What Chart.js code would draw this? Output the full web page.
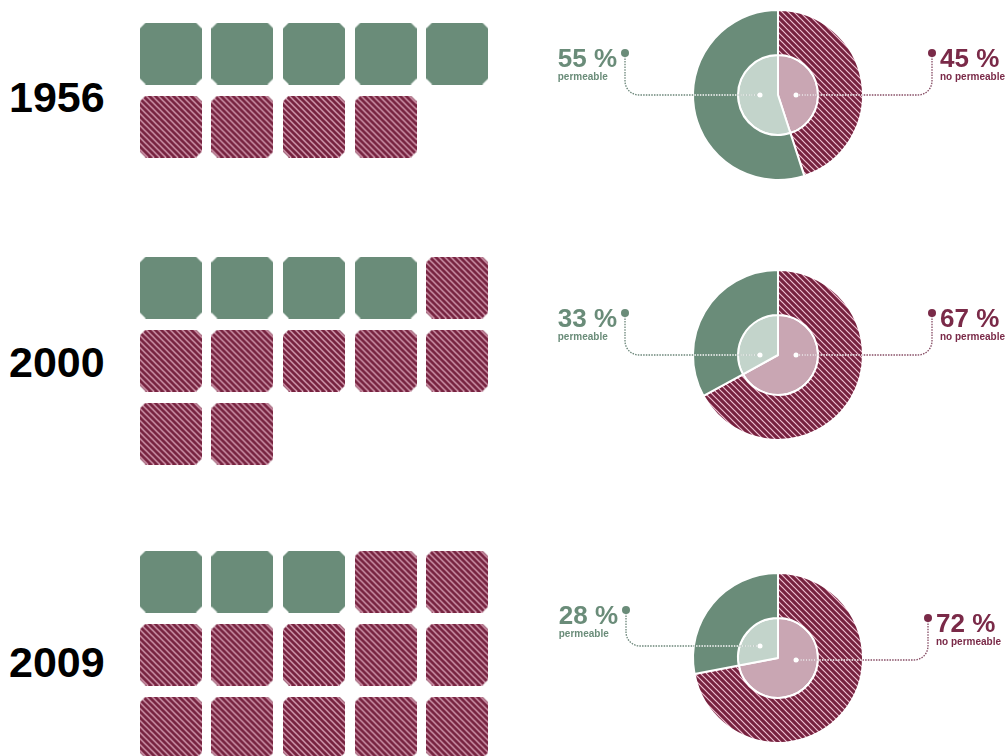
<!DOCTYPE html>
<html>
<head>
<meta charset="utf-8">
<script src="https://cdn.jsdelivr.net/npm/chart.js@4.4.0/dist/chart.umd.min.js"></script>
<style>
  html, body { margin: 0; padding: 0; background: #fff; overflow: hidden; }
  body { width: 1008px; height: 756px; position: relative; font-family: 'Liberation Sans', Arial, sans-serif; }
  .year { position: absolute; left: 9px; font-weight: bold; font-size: 43px; line-height: 43px; color: #000; }
  canvas { position: absolute; }
</style>
</head>
<body>
<div class="year" id="year0" style="top:76px"></div>
<div class="year" id="year1" style="top:341px"></div>
<div class="year" id="year2" style="top:641px"></div>

<canvas id="waffle0" width="358" height="219" style="left:135px; top:17px"></canvas>
<canvas id="waffle1" width="358" height="219" style="left:135px; top:251px"></canvas>
<canvas id="waffle2" width="358" height="219" style="left:135px; top:545px"></canvas>

<canvas id="donut0" width="460" height="190" style="left:548px; top:0px"></canvas>
<canvas id="donut1" width="460" height="190" style="left:548px; top:260px"></canvas>
<canvas id="donut2" width="460" height="190" style="left:548px; top:563px"></canvas>

<script>
// data
var years = ['1956', '2000', '2009'];
var permeableTiles = [5, 4, 3];
var noPermeableTiles = [4, 8, 12];
var permeablePct = [55, 33, 28];
var noPermeablePct = [45, 67, 72];
var seriesLabels = ['permeable', 'no permeable'];

// colours
var GREEN = '#6a8c79';
var MAROON = '#76223f';
var LIGHT_GREEN = '#c3d4cb';
var LIGHT_PINK = '#c9a6b3';

// where the callout lines sit, per row (dot offset / line offset from donut centre)
var calloutLayout = [
    {left: {dx: 153, dotDy: -42, lineDy: 0},   right: {dx: 154, dotDy: -42, lineDy: 0}},
    {left: {dx: 153, dotDy: -42, lineDy: 0},   right: {dx: 154, dotDy: -42, lineDy: 0}},
    {left: {dx: 152, dotDy: -48, lineDy: -12}, right: {dx: 150, dotDy: -40, lineDy: 2}}
];

function hatch(ctx) {
    var s = 6;
    var c = document.createElement('canvas');
    c.width = s; c.height = s;
    var g = c.getContext('2d');
    g.fillStyle = MAROON;
    g.fillRect(0, 0, s, s);
    g.strokeStyle = 'rgba(245,200,218,0.95)';
    g.lineWidth = 1.2;
    g.beginPath();
    g.moveTo(-1, -1); g.lineTo(s + 1, s + 1);
    g.moveTo(s - 1, -1); g.lineTo(s + 1, 1);
    g.moveTo(-1, s - 1); g.lineTo(1, s + 1);
    g.stroke();
    return ctx.createPattern(c, 'repeat');
}

function makeTile(hatched) {
    var size = 62, cut = 6;
    var c = document.createElement('canvas');
    c.width = size; c.height = size;
    var g = c.getContext('2d');
    g.beginPath();
    g.moveTo(cut, 0); g.lineTo(size - cut, 0); g.lineTo(size, cut);
    g.lineTo(size, size - cut); g.lineTo(size - cut, size); g.lineTo(cut, size);
    g.lineTo(0, size - cut); g.lineTo(0, cut);
    g.closePath();
    g.fillStyle = hatched ? hatch(g) : GREEN;
    g.fill();
    return c;
}

var greenTile = makeTile(false);
var maroonTile = makeTile(true);

function cells(start, count) {
    var pts = [];
    for (var i = start; i < start + count; i++) {
        pts.push({x: i % 5 + 1, y: Math.floor(i / 5) + 1});
    }
    return pts;
}

function drawSide(ctx, cx, cy, R, side, lay, pctText, label, color, lineColor) {
    var x0 = cx + side * lay.dx;
    var y0 = cy + lay.dotDy;
    var yH = cy + lay.lineDy;
    var xEnd = cx + side * 18;

    ctx.save();
    ctx.lineWidth = 1.3;
    ctx.setLineDash([1.5, 1.2]);
    ctx.beginPath();
    ctx.moveTo(x0, y0);
    ctx.arcTo(x0, yH, xEnd, yH, 14);
    ctx.lineTo(xEnd, yH);
    ctx.strokeStyle = lineColor;
    ctx.stroke();
    // white where it crosses the donut
    ctx.save();
    ctx.beginPath();
    ctx.arc(cx, cy, R, 0, Math.PI * 2);
    ctx.clip();
    ctx.beginPath();
    ctx.moveTo(x0, y0);
    ctx.arcTo(x0, yH, xEnd, yH, 14);
    ctx.lineTo(xEnd, yH);
    ctx.strokeStyle = '#ffffff';
    ctx.stroke();
    ctx.restore();
    ctx.setLineDash([]);

    ctx.fillStyle = color;
    ctx.beginPath();
    ctx.arc(x0, y0, 4, 0, Math.PI * 2);
    ctx.fill();
    ctx.fillStyle = '#ffffff';
    ctx.beginPath();
    ctx.arc(xEnd, yH, 2.5, 0, Math.PI * 2);
    ctx.fill();

    ctx.fillStyle = color;
    ctx.textBaseline = 'alphabetic';
    ctx.font = 'bold 26px "Liberation Sans", Arial, sans-serif';
    var w = ctx.measureText(pctText).width;
    var tx = side < 0 ? x0 - 8 - w : x0 + 8;
    ctx.textAlign = 'left';
    ctx.fillText(pctText, tx, y0 + 14);
    ctx.font = 'bold 10px "Liberation Sans", Arial, sans-serif';
    ctx.fillText(label, tx, y0 + 27);
    ctx.restore();
}

var callouts = {
    id: 'callouts',
    afterDraw: function(chart, args, opts) {
        var arc = chart.getDatasetMeta(0).data[0];
        var cx = arc.x, cy = arc.y, R = arc.outerRadius;
        var d = chart.data.datasets[0].data;
        drawSide(chart.ctx, cx, cy, R, -1, opts.left, d[1] + ' %', chart.data.labels[1],
            GREEN, 'rgba(90,120,105,0.9)');
        drawSide(chart.ctx, cx, cy, R, 1, opts.right, d[0] + ' %', chart.data.labels[0],
            '#7a2a48', 'rgba(120,55,82,0.9)');
    }
};

for (var i = 0; i < years.length; i++) {
    document.getElementById('year' + i).textContent = years[i];

    new Chart(document.getElementById('waffle' + i), {
        type: 'scatter',
        data: {
            datasets: [
                {
                    label: seriesLabels[0],
                    data: cells(0, permeableTiles[i]),
                    pointStyle: greenTile,
                    pointRadius: 31,
                    clip: false
                },
                {
                    label: seriesLabels[1],
                    data: cells(permeableTiles[i], noPermeableTiles[i]),
                    pointStyle: maroonTile,
                    pointRadius: 31,
                    clip: false
                }
            ]
        },
        options: {
            responsive: false,
            animation: false,
            events: [],
            layout: {padding: 0, autoPadding: false},
            plugins: {legend: {display: false}, tooltip: {enabled: false}},
            scales: {
                x: {type: 'linear', min: 0.5, max: 5.5, display: false},
                y: {type: 'linear', min: 0.5, max: 3.5, reverse: true, display: false}
            }
        }
    });

    var donutCanvas = document.getElementById('donut' + i);
    var pattern = hatch(donutCanvas.getContext('2d'));
    new Chart(donutCanvas, {
        type: 'pie',
        data: {
            labels: [seriesLabels[1], seriesLabels[0]],
            datasets: [
                {
                    data: [noPermeablePct[i], permeablePct[i]],
                    backgroundColor: [pattern, GREEN],
                    borderColor: '#ffffff',
                    borderWidth: 2,
                    weight: 45
                },
                {
                    data: [noPermeablePct[i], permeablePct[i]],
                    backgroundColor: [LIGHT_PINK, LIGHT_GREEN],
                    borderColor: '#ffffff',
                    borderWidth: 2,
                    weight: 40
                }
            ]
        },
        options: {
            responsive: false,
            animation: false,
            events: [],
            radius: 85,
            layout: {padding: 0, autoPadding: false},
            plugins: {
                legend: {display: false},
                tooltip: {enabled: false},
                callouts: calloutLayout[i]
            }
        },
        plugins: [callouts]
    });
}
</script>
</body>
</html>
